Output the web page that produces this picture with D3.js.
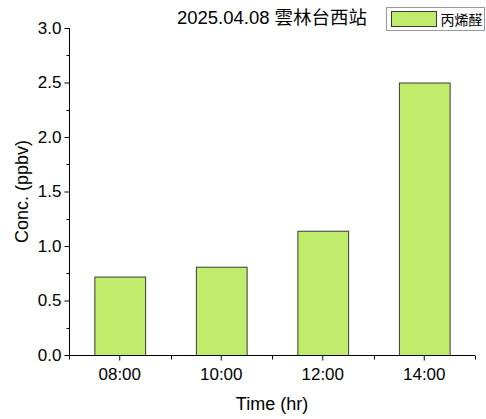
<!DOCTYPE html>
<html><head><meta charset="utf-8">
<script src="https://cdn.jsdelivr.net/npm/d3@7"></script>
<style>body{margin:0;background:#fff}svg{display:block}text{font-family:"Liberation Sans",Arial,sans-serif;fill:#000}</style>
</head><body><svg id="c" width="486" height="419"></svg>
<script>
const categories = ["08:00","10:00","12:00","14:00"];
const values = [0.72, 0.81, 1.14, 2.50];
const yTicks = [0,0.5,1.0,1.5,2.0,2.5,3.0];
const seriesName = "丙烯醛";
const title = "2025.04.08 雲林台西站";

const svg = d3.select("#c");
const L=69,R=475,T=28,B=355;
const x = d3.scaleBand().domain(categories).range([L,R]).paddingInner(0.5).paddingOuter(0.25);
const y = d3.scaleLinear().domain([0,3]).range([B,T]);
const fill="#bfed6b";

svg.selectAll("rect.bar").data(values).join("rect").attr("class","bar")
 .attr("x",(d,i)=>x(categories[i])+0.5).attr("width",x.bandwidth())
 .attr("y",d=>y(d)+0.5).attr("height",d=>B-y(d))
 .attr("fill",fill).attr("stroke","#3a3a3a").attr("stroke-width",1);

// y axis
const ya = svg.append("g").attr("transform",`translate(${L+0.5},0)`)
 .call(d3.axisLeft(y).tickValues(yTicks).tickFormat(d3.format(".1f")).tickSize(5).tickPadding(3));
const yMinor = d3.range(0.25,3,0.5);
svg.append("g").selectAll("line").data(yMinor).join("line")
 .attr("x1",L+0.5).attr("x2",L-2.5).attr("y1",d=>Math.round(y(d))+0.5).attr("y2",d=>Math.round(y(d))+0.5)
 .attr("stroke","#000");
// x axis
const xa = svg.append("g").attr("transform",`translate(0,${B+0.5})`)
 .call(d3.axisBottom(x).tickSize(5).tickPadding(7));
const step = x.step();
const bounds = d3.range(categories.length+1).map(i=>L+i*step);
svg.append("g").selectAll("line").data(bounds).join("line")
 .attr("x1",d=>Math.round(d)+0.5).attr("x2",d=>Math.round(d)+0.5).attr("y1",B+0.5).attr("y2",B+4.5)
 .attr("stroke","#000");
[ya,xa].forEach(g=>{g.select(".domain").attr("stroke","#000");g.selectAll(".tick line").attr("stroke","#000");
 g.selectAll("text").attr("font-size",17).attr("font-family",'"Liberation Sans",Arial,sans-serif');});
ya.select(".domain").attr("d",`M0,${B}V${T}`);
xa.select(".domain").attr("d",`M${L},0H${R}`);

svg.append("text").attr("transform",`translate(28,${(T+B)/2}) rotate(-90)`).attr("text-anchor","middle")
 .attr("font-size",18).text("Conc. (ppbv)");
svg.append("text").attr("x",(L+R)/2).attr("y",410).attr("text-anchor","middle").attr("font-size",18).text("Time (hr)");

svg.append("text").attr("x",272).attr("y",24).attr("text-anchor","middle").attr("font-size",18.5)
 .style("font-family",'"Liberation Sans","Noto Sans CJK TC",sans-serif').text(title);
// legend
svg.append("rect").attr("x",386.5).attr("y",7.5).attr("width",98).attr("height",23).attr("fill","#fff").attr("stroke","#9a9a9a");
svg.append("rect").attr("x",391.5).attr("y",11.5).attr("width",45).attr("height",15).attr("fill",fill).attr("stroke","#3a3a3a");
svg.append("text").attr("x",440.5).attr("y",25).attr("font-size",14)
 .style("font-family",'"Noto Sans CJK TC",sans-serif').attr("fill","#333").text(seriesName);
</script></body></html>
